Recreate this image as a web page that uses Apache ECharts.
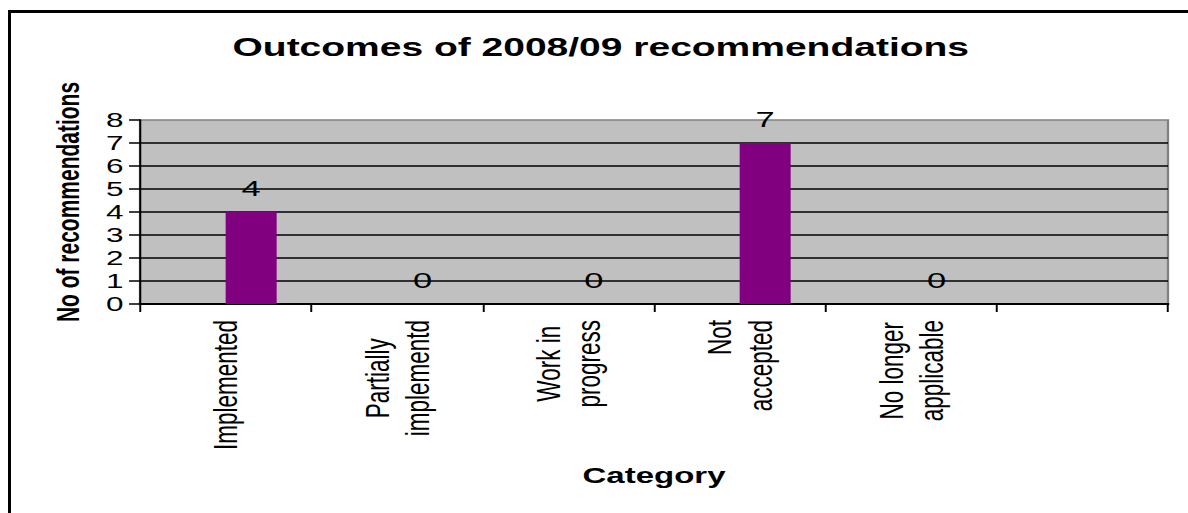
<!DOCTYPE html>
<html>
<head>
<meta charset="utf-8">
<script src="https://cdn.jsdelivr.net/npm/echarts@6/dist/echarts.min.js"></script>
<style>
  html, body { margin: 0; padding: 0; background: #ffffff; overflow: hidden; }
  body { width: 1188px; height: 513px; position: relative; }
  /* Chart is laid out narrow, then widened horizontally */
  #chart { position: absolute; left: 0; top: 0; width: 792px; height: 513px;
           transform: scaleX(1.5); transform-origin: 0 0; }
  #frame { position: absolute; left: 8px; top: 10px; width: 1300px; height: 600px;
           border-left: 3px solid #000; border-top: 3px solid #000; pointer-events: none; }
</style>
</head>
<body>
<div id="chart"></div>
<div id="frame"></div>
<script>
const chartTitle = 'Outcomes of 2008/09 recommendations';
const categories = ['Implemented', 'Partially\nimplementd', 'Work in\nprogress', 'Not\naccepted', 'No longer\napplicable', ''];
const outcomeCounts = [4, 0, 0, 7, 0, null];
const emptySlot = [null, null, null, null, null, null];
const yAxisName = 'No of recommendations';
const xAxisName = 'Category';
const yMin = 0, yMax = 8, yStep = 1;

const FONT = '"Liberation Sans", Arial, sans-serif';
// short lines that sit flush with the top of their label block
const flushLines = ['Not'];

const chart = echarts.init(document.getElementById('chart'), null, { renderer: 'svg' });

chart.setOption({
  animation: false,
  backgroundColor: 'transparent',
  title: {
    text: chartTitle,
    left: 155,
    top: 34,
    padding: 0,
    textStyle: { fontFamily: FONT, fontSize: 26, fontWeight: 'bold', color: '#000' }
  },
  grid: {
    left: 93.33, right: 13.33, top: 120, bottom: 209,
    show: true, backgroundColor: '#C0C0C0', borderColor: '#808080', borderWidth: 1.5
  },
  xAxis: {
    type: 'category',
    data: categories,
    name: xAxisName,
    nameLocation: 'middle',
    nameGap: 161,
    nameTextStyle: { fontFamily: FONT, fontSize: 22, fontWeight: 'bold', color: '#000' },
    axisLine: { lineStyle: { color: '#000', width: 2 } },
    axisTick: { show: true, interval: 0, length: 8, lineStyle: { color: '#000', width: 1.3 } },
    axisLabel: {
      interval: 0,
      rotate: 90,
      margin: 16,
      color: '#000',
      fontFamily: FONT,
      fontSize: 22.5,
      formatter: v => v ? v.split('\n').map(s => (flushLines.includes(s) ? '{r|' : '{c|') + s + '}').join('\n') : '',
      rich: {
        c: { fontFamily: FONT, fontSize: 22.5, lineHeight: 27, align: 'center', color: '#000' },
        r: { fontFamily: FONT, fontSize: 22.5, lineHeight: 27, align: 'right', color: '#000' }
      }
    },
    splitLine: { show: false }
  },
  yAxis: {
    type: 'value',
    min: yMin, max: yMax, interval: yStep,
    name: yAxisName,
    nameLocation: 'middle',
    nameGap: 37,
    nameRotate: 90,
    nameTextStyle: { fontFamily: FONT, fontSize: 21, fontWeight: 'bold', color: '#000', padding: [0, 0, 0, 20] },
    axisLine: { show: true, lineStyle: { color: '#000', width: 1.3 } },
    axisTick: { show: true, length: 7.3, lineStyle: { color: '#000', width: 1.5 } },
    axisLabel: { margin: 11, color: '#000', fontFamily: FONT, fontSize: 21 },
    splitLine: { show: true, showMaxLine: false, showMinLine: false, lineStyle: { color: '#000', width: 1.5 } }
  },
  series: [
    {
      type: 'bar',
      data: emptySlot,
      barWidth: 34,
      barGap: '0%',
      silent: true
    },
    {
      type: 'bar',
      data: outcomeCounts,
      barWidth: 34,
      itemStyle: { color: '#800080' },
      label: {
        show: true,
        position: 'top',
        distance: 13,
        color: '#000',
        fontFamily: FONT,
        fontSize: 23
      }
    }
  ]
});
</script>
</body>
</html>
